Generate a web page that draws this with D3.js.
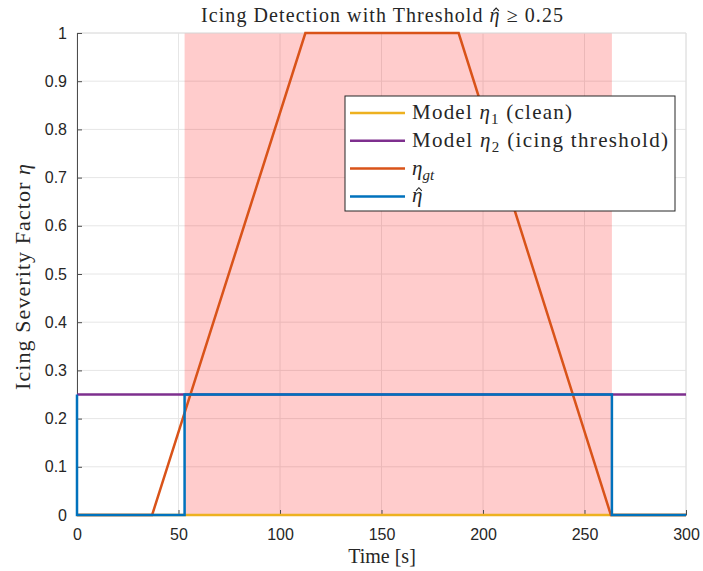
<!DOCTYPE html>
<html>
<head>
<meta charset="utf-8">
<script src="https://cdn.jsdelivr.net/npm/d3@7"></script>
<style>
  body { margin: 0; background: #fff; }
  .tick text { font-family: "Liberation Sans", Arial, sans-serif; font-size: 16px; fill: #262626; }
  .serif { font-family: "Liberation Serif", "Times New Roman", serif; fill: #262626; }
</style>
</head>
<body>
<svg width="703" height="571"></svg>
<script>
// data
let xTicks = [0, 50, 100, 150, 200, 250, 300];
let yTicks = [0, 0.1, 0.2, 0.3, 0.4, 0.5, 0.6, 0.7, 0.8, 0.9, 1];
let timeModel = [0, 300];
let eta1 = [0, 0];          // Model eta1 (clean)
let eta2 = [0.25, 0.25];    // Model eta2 (icing threshold)
let timeGt = [0, 37, 112.5, 188, 263, 300];
let etaGt = [0, 0, 1, 1, 0, 0];
let timeHat = [0, 0, 53, 53, 263.5, 263.5, 300];
let etaHat = [0.25, 0, 0, 0.25, 0.25, 0, 0];
let iceStart = 53, iceEnd = 263.5;

let colours = {eta1: "#EDB120", eta2: "#7E2F8E", gt: "#D95319", hat: "#0072BD"};

let svg = d3.select("svg");
let pLeft = 77, pRight = 686, pTop = 33, pBottom = 515;

let x = d3.scaleLinear().domain([0, 300]).range([pLeft, pRight]);
let y = d3.scaleLinear().domain([0, 1]).range([pBottom, pTop]);

// grid
svg.append("g")
  .selectAll("line")
  .data(xTicks)
  .enter().append("line")
    .attr("x1", d => x(d)).attr("x2", d => x(d))
    .attr("y1", pTop).attr("y2", pBottom)
    .style("stroke", "#e6e6e6").style("stroke-width", 1);
svg.append("g")
  .selectAll("line")
  .data(yTicks)
  .enter().append("line")
    .attr("x1", pLeft).attr("x2", pRight)
    .attr("y1", d => y(d)).attr("y2", d => y(d))
    .style("stroke", "#e6e6e6").style("stroke-width", 1);

// icing region
svg.append("rect")
  .attr("x", x(iceStart))
  .attr("y", pTop)
  .attr("width", x(iceEnd) - x(iceStart))
  .attr("height", pBottom - pTop)
  .style("fill", "rgba(255,0,0,0.2)");

// box (top/right light)
svg.append("path")
  .attr("d", `M${pLeft},${pTop}H${pRight}V${pBottom}`)
  .style("fill", "none").style("stroke", "#e0e0e0");

// axes
let xAxis = svg.append("g")
  .attr("transform", `translate(0,${pBottom})`)
  .call(d3.axisBottom(x).tickValues(xTicks).tickSizeInner(-5).tickSizeOuter(0).tickPadding(14));
let yAxis = svg.append("g")
  .attr("transform", `translate(${pLeft},0)`)
  .call(d3.axisLeft(y).tickValues(yTicks).tickSizeInner(-5).tickSizeOuter(0).tickPadding(10)
        .tickFormat(d => d3.format("")(d)));
[xAxis, yAxis].forEach(a => {
  a.select(".domain").style("stroke", "#4d4d4d");
  a.selectAll(".tick line").style("stroke", "#4d4d4d");
});

// series
function line(xs, ys) {
  return d3.line().x((d, i) => x(xs[i])).y(d => y(d))(ys);
}
let series = [
  {xs: timeModel, ys: eta1, c: colours.eta1},
  {xs: timeModel, ys: eta2, c: colours.eta2},
  {xs: timeGt, ys: etaGt, c: colours.gt},
  {xs: timeHat, ys: etaHat, c: colours.hat}
];
svg.selectAll("path.series")
  .data(series)
  .enter().append("path")
    .attr("class", "series")
    .attr("d", d => line(d.xs, d.ys))
    .style("fill", "none")
    .style("stroke", d => d.c)
    .style("stroke-width", 2.5);

// small hat (as a path) over one character of a text element
function addHat(parent, textSel, idx, size) {
  let ext = textSel.node().getExtentOfChar(idx);
  let cx = ext.x + ext.width / 2 + size * 0.08;
  let base = +textSel.attr("y");
  let yb = base - size * 0.55, yt = base - size * 0.7, hw = size * 0.14;
  parent.append("path")
    .attr("d", `M${cx - hw},${yb}L${cx},${yt}L${cx + hw},${yb}`)
    .style("fill", "none").style("stroke", "#262626").style("stroke-width", 1.1);
}

// title
let titleStr = "Icing Detection with Threshold ";
let title = svg.append("text").attr("class", "serif")
  .attr("x", 382).attr("y", 22)
  .attr("text-anchor", "middle")
  .attr("textLength", 362)
  .style("font-size", "20px");
title.append("tspan").text(titleStr);
title.append("tspan").style("font-style", "italic").text("η");
title.append("tspan").text(" ≥ 0.25");
addHat(svg, title, titleStr.length, 20);

// axis labels
svg.append("text").attr("class", "serif")
  .attr("x", 382).attr("y", 563)
  .attr("text-anchor", "middle")
  .style("font-size", "20px")
  .text("Time [s]");
let ylab = svg.append("text").attr("class", "serif")
  .attr("transform", `translate(30,277) rotate(-90)`)
  .attr("text-anchor", "middle")
  .attr("textLength", 226)
  .style("font-size", "22px");
ylab.append("tspan").text("Icing Severity Factor ");
ylab.append("tspan").style("font-style", "italic").text("η");

// legend
let legend = svg.append("g");
legend.append("rect")
  .attr("x", 345).attr("y", 96)
  .attr("width", 330).attr("height", 115)
  .style("fill", "#fff").style("stroke", "#262626").style("stroke-width", 1);

let legendRows = [
  {c: colours.eta1, w: 160, parts: [["Model ", ""], ["η", "i"], ["1", "sub"], [" (clean)", "up"]]},
  {c: colours.eta2, w: 256, parts: [["Model ", ""], ["η", "i"], ["2", "sub"], [" (icing threshold)", "up"]]},
  {c: colours.gt, w: 0, parts: [["η", "i"], ["gt", "isub"]]},
  {c: colours.hat, w: 0, hat: true, parts: [["η", "i"]]}
];
let rows = legend.selectAll("g.row")
  .data(legendRows)
  .enter().append("g")
    .attr("transform", (d, i) => `translate(0,${113 + i * 27.8})`);
rows.append("line")
  .attr("x1", 350).attr("x2", 405)
  .style("stroke", d => d.c).style("stroke-width", 2.5);
rows.each(function(d) {
  let g = d3.select(this);
  let t = g.append("text").attr("class", "serif")
    .attr("x", 412).attr("y", 6)
    .style("font-size", "21px");
  if (d.w) t.attr("textLength", d.w);
  d.parts.forEach(p => {
    let s = t.append("tspan").text(p[0]);
    if (p[1] === "i") s.style("font-style", "italic");
    if (p[1] === "sub" || p[1] === "isub") {
      s.attr("dy", 5).style("font-size", "15px");
      if (p[1] === "isub") s.style("font-style", "italic");
    }
    if (p[1] === "up") s.attr("dy", -5);
  });
  if (d.hat) addHat(g, t, 0, 21);
});
</script>
</body>
</html>
